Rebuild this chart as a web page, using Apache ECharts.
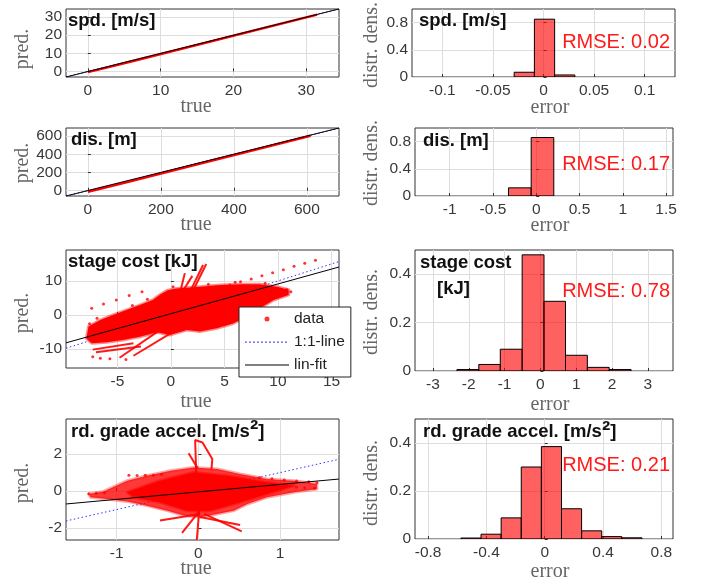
<!DOCTYPE html>
<html>
<head>
<meta charset="utf-8">
<title>prediction vs true / error histograms</title>
<script src="https://cdn.jsdelivr.net/npm/echarts@6/dist/echarts.min.js"></script>
<style>
  html, body { margin: 0; padding: 0; background: #fff; }
  #chart { width: 702px; height: 579px; }
</style>
</head>
<body>
<div id="chart"></div>
<script>
// ---- values ----

// axis ranges [min, max] per panel (row-major: left scatter, right histogram)
const xRanges = [[-3, 34.5], [-0.13, 0.13], [-60, 688], [-1.4, 1.58], [-9.8, 15.7], [-3.5, 3.7], [-1.62, 1.72], [-0.89, 0.88]];
const yRanges = [[-3.1, 34.4], [0, 1], [-58, 690], [0, 1], [-15.6, 19.1], [0, 0.5], [-2.65, 3.9], [0, 0.5]];
const xTicks = [[0, 10, 20, 30], [-0.1, -0.05, 0, 0.05, 0.1], [0, 200, 400, 600], [-1, -0.5, 0, 0.5, 1, 1.5],
                [-5, 0, 5, 10, 15], [-3, -2, -1, 0, 1, 2, 3], [-1, 0, 1], [-0.8, -0.4, 0, 0.4, 0.8]];
const yTicks = [[0, 10, 20, 30], [0, 0.4, 0.8], [0, 200, 400, 600], [0, 0.4, 0.8],
                [-10, 0, 10], [0, 0.2, 0.4], [-2, 0, 2], [0, 0.2, 0.4]];

// speed
const spdData = [[0, -0.4], [3, 2.5], [6.5, 6.0], [31.5, 31.3]];
const spdOne = [[-3, -3], [34.5, 34.5]];
const spdFit = [[-3, -3.1], [34.5, 34.4]];
const spdEdges = [-0.029, -0.009, 0.011, 0.031];
const spdHist = [0.07, 0.85, 0.03];

// distance
const disData = [[0, -12], [100, 86], [300, 292], [610, 605]];
const disOne = [[-60, -60], [688, 688]];
const disFit = [[-60, -58], [688, 690]];
const disEdges = [-0.32, -0.058, 0.203];
const disHist = [0.12, 0.86];

// stage cost
const costCloud = [[-7.7, -3.4], [-6.6, -1.5], [-5.4, 0.0], [-4.1, 1.5], [-2.9, 2.9], [-1.7, 4.4], [-1.0, 6.0], [-0.3, 7.3],
  [0.5, 7.8], [2.7, 8.3], [4.6, 8.8], [6.5, 9.0], [8.3, 9.0], [9.9, 8.3], [11.0, 7.4], [11.0, 5.9], [9.6, 4.4],
  [8.3, 2.0], [7.1, -0.5], [5.8, -2.5], [4.3, -3.9], [2.7, -4.9], [1.5, -4.4], [-0.1, -5.9], [-1.3, -5.1],
  [-2.9, -6.4], [-4.5, -7.4], [-6.0, -8.0], [-7.4, -8.3], [-7.9, -6.9]];
const costStreaks = [
  [[0.8, 5.9], [1.3, 12.3]],
  [[1.9, 7.6], [3.0, 14.7]],
  [[2.2, 8.0], [3.3, 15.0]],
  [[1.2, 7.5], [2.0, 11.5]],
  [[-4.8, -12.6], [-1.0, -4.4]],
  [[-3.5, -12.0], [0.2, -5.0]],
  [[-7.3, -10.2], [-3.5, -8.3]],
  [[-7.0, -11.0], [-2.8, -9.3]]
];
const costDots = [[-7.4, 2.0], [-6.3, 3.2], [-5.1, 4.4], [-3.9, 5.7], [-2.7, 6.8],
  [5.5, 8.8], [6.5, 9.8], [7.5, 10.6], [8.5, 11.5], [9.5, 12.4], [10.5, 13.3], [11.5, 14.3], [12.5, 15.2], [13.5, 16.1],
  [-6.6, -12.7], [-5.7, -12.9], [-7.3, -12.3], [-4.2, -13.1], [10.8, 7.5], [11.2, 6.8],
  [-7.6, -2.6], [-6.9, -1.0], [-3.6, 2.8], [-2.2, 4.6], [0.2, 8.3], [3.5, 9.0], [6.0, 9.6], [8.8, 9.3]];
const costOne = [[-9.8, -9.8], [15.7, 15.7]];
const costFit = [[-9.8, -8.2], [15.7, 14.1]];
const costEdges = [-2.33, -1.72, -1.12, -0.51, 0.10, 0.70, 1.31, 1.92, 2.53];
const costHist = [0.006, 0.027, 0.09, 0.48, 0.288, 0.065, 0.015, 0.006];

// road grade acceleration
const accelCloud = [[-1.34, -0.16], [-1.16, -0.02], [-0.87, 0.56], [-0.63, 0.83], [-0.34, 1.10], [-0.06, 1.28], [0.23, 1.19],
  [0.51, 0.92], [0.84, 0.65], [1.17, 0.56], [1.45, 0.38], [1.45, 0.11], [1.17, -0.07], [0.84, -0.34], [0.60, -0.70],
  [0.43, -1.06], [0.23, -1.24], [0.02, -1.42], [-0.18, -1.33], [-0.38, -1.06], [-0.63, -0.79], [-0.87, -0.56],
  [-1.12, -0.43], [-1.32, -0.34]];
const accelCore = [[-0.87, -0.07], [-0.47, 0.56], [-0.06, 1.01], [0.35, 0.83], [0.84, 0.47], [1.17, 0.29], [0.84, -0.16],
  [0.51, -0.61], [0.15, -1.06], [-0.14, -1.06], [-0.47, -0.61], [-0.79, -0.34]];
const accelStreaks = [
  [[-0.02, 0.02], [-0.04, 2.76], [0.05, 2.63], [0.17, 1.73], [0.16, 1.19]],
  [[-0.12, 2.05], [-0.01, 1.24]],
  [[0.02, -0.5], [-0.02, -2.65]],
  [[0.07, -1.24], [0.53, -2.18]],
  [[0.02, -1.03], [-0.2, -2.27]],
  [[0.02, -1.4], [0.51, -1.84]],
  [[-0.47, -1.6], [0.02, -1.24]]
];
const accelDots = [[-0.85, 0.85], [-0.75, 0.84], [-0.65, 0.86], [-0.55, 0.85], [-0.45, 0.9],
  [0.75, 0.72], [0.9, 0.66], [1.05, 0.6], [1.2, 0.55], [1.35, 0.5], [1.45, 0.45],
  [1.2, 0.2], [1.3, 0.18], [1.42, 0.15], [-1.34, -0.15], [-1.25, -0.12], [-1.15, -0.1]];
const accelOne = [[-1.62, -1.62], [1.72, 1.72]];
const accelFit = [[-1.62, -0.7], [1.72, 0.65]];
const accelEdges = [-0.575, -0.437, -0.299, -0.161, -0.023, 0.115, 0.253, 0.391, 0.529, 0.667];
const accelHist = [0.004, 0.02, 0.088, 0.30, 0.385, 0.126, 0.034, 0.01, 0.005];

const rmse = ['RMSE: 0.02', 'RMSE: 0.17', 'RMSE: 0.78', 'RMSE: 0.21'];

// ---- layout ----
const grids = [
  { left: 66, top: 9, width: 273, height: 68 },
  { left: 412, top: 9, width: 263, height: 68 },
  { left: 66, top: 128, width: 273, height: 68 },
  { left: 415, top: 128, width: 258, height: 68 },
  { left: 66, top: 250, width: 273, height: 118 },
  { left: 415, top: 250, width: 258, height: 121 },
  { left: 66, top: 419, width: 273, height: 121 },
  { left: 415, top: 419, width: 258, height: 120 }
];

const sans = '"Liberation Sans", Arial, sans-serif';
const serif = '"Liberation Serif", "Times New Roman", serif';

function axis(i, range, ticks, isX) {
  return {
    type: 'value', gridIndex: i, min: range[0], max: range[1],
    axisLine: { show: false },
    axisTick: { show: true, inside: true, length: 3, customValues: ticks, lineStyle: { color: '#333' } },
    axisLabel: { customValues: ticks, color: '#383838', fontSize: 15.5, fontFamily: sans, margin: isX ? 6 : 4 },
    splitLine: { show: true, lineStyle: { color: '#dedede', width: 1 } }
  };
}

function lineSeries(i, name, pts, color, width, type, z) {
  return {
    type: 'line', name: name, xAxisIndex: i, yAxisIndex: i, data: pts,
    symbol: 'none', silent: true, z: z, animation: false,
    lineStyle: { color: color, width: width, type: type }
  };
}

function dotSeries(i, name, pts) {
  return {
    type: 'scatter', name: name, xAxisIndex: i, yAxisIndex: i, data: pts,
    symbol: 'circle', symbolSize: 3, silent: true, z: 3, animation: false,
    itemStyle: { color: '#ff0000' }
  };
}

function cloudSeries(i, pts, fill, stroke, lw) {
  return {
    type: 'custom', xAxisIndex: i, yAxisIndex: i, data: [pts[0]], silent: true, clip: true, z: 2,
    renderItem: function (params, api) {
      return {
        type: 'polygon',
        shape: { points: pts.map(p => api.coord(p)) },
        style: { fill: fill, stroke: stroke, lineWidth: lw, lineJoin: 'round' }
      };
    }
  };
}

function histSeries(i, edges, heights) {
  return {
    type: 'custom', xAxisIndex: i, yAxisIndex: i, silent: true, clip: true, z: 2,
    encode: { x: [0, 1], y: 2 },
    data: heights.map((h, k) => [edges[k], edges[k + 1], h]),
    renderItem: function (params, api) {
      const a = api.coord([api.value(0), api.value(2)]);
      const b = api.coord([api.value(1), 0]);
      return {
        type: 'rect',
        shape: { x: a[0], y: a[1], width: b[0] - a[0], height: b[1] - a[1] },
        style: { fill: 'rgba(255,0,0,0.62)', stroke: '#000', lineWidth: 1 }
      };
    }
  };
}

const series = [];
// row 1
series.push(lineSeries(0, 'spdOne', spdOne, '#3333ff', 1, [1.5, 2.5], 1));
series.push(lineSeries(0, 'spdData', spdData, '#ff0000', 2.5, 'solid', 2));
series.push(lineSeries(0, 'spdFit', spdFit, '#000', 1, 'solid', 5));
series.push(histSeries(1, spdEdges, spdHist));
// row 2
series.push(lineSeries(2, 'disOne', disOne, '#3333ff', 1, [1.5, 2.5], 1));
series.push(lineSeries(2, 'disData', disData, '#ff0000', 2.5, 'solid', 2));
series.push(lineSeries(2, 'disFit', disFit, '#000', 1, 'solid', 5));
series.push(histSeries(3, disEdges, disHist));
// row 3
series.push(lineSeries(4, '1:1-line', costOne, '#3333ff', 1, [1.5, 2.5], 1));
series.push(cloudSeries(4, costCloud, '#ff0000', 'rgba(255,0,0,0.45)', 3));
costStreaks.forEach(s => series.push(lineSeries(4, 'costStreak', s, 'rgba(255,0,0,0.9)', 2, 'solid', 3)));
series.push(dotSeries(4, 'data', costDots));
series.push(lineSeries(4, 'lin-fit', costFit, '#000', 1, 'solid', 5));
series.push(histSeries(5, costEdges, costHist));
// row 4
series.push(lineSeries(6, 'accelOne', accelOne, '#3333ff', 1, [1.5, 2.5], 1));
series.push(cloudSeries(6, accelCloud, 'rgba(255,0,0,0.78)', 'rgba(255,0,0,0.35)', 3));
series.push(cloudSeries(6, accelCore, '#ff0000', 'rgba(255,0,0,0.5)', 3));
accelStreaks.forEach(s => series.push(lineSeries(6, 'accelStreak', s, 'rgba(255,0,0,0.9)', 2, 'solid', 3)));
series.push(dotSeries(6, 'accelDots', accelDots));
series.push(lineSeries(6, 'accelFit', accelFit, '#000', 1, 'solid', 5));
series.push(histSeries(7, accelEdges, accelHist));

// ---- text: panel titles, axis names, RMSE ----
const graphic = [];
function txt(x, y, text, font, fill, align, vAlign, rot, rich) {
  graphic.push({
    type: 'text', x: x, y: y, rotation: rot || 0, silent: true, z: 20,
    style: { text: text, font: font, fill: fill, align: align, verticalAlign: vAlign, rich: rich }
  });
}
const titleFont = 'bold 18.5px ' + sans;
const supRich = {
  a: { fontSize: 18.5, fontWeight: 'bold', fontFamily: sans, fill: '#111' },
  s: { fontSize: 25, fontWeight: 'bold', fontFamily: sans, fill: '#111' }
};
txt(68, 11.5, 'spd. [m/s]', titleFont, '#111', 'left', 'top');
txt(419, 11.5, 'spd. [m/s]', titleFont, '#111', 'left', 'top');
txt(71, 130, 'dis. [m]', titleFont, '#111', 'left', 'top');
txt(423, 131.5, 'dis. [m]', titleFont, '#111', 'left', 'top');
txt(68, 252, 'stage cost [kJ]', titleFont, '#111', 'left', 'top');
txt(420, 253.5, 'stage cost', titleFont, '#111', 'left', 'top');
txt(437, 279, '[kJ]', titleFont, '#111', 'left', 'top');
txt(71, 419, '{a|rd. grade accel. [m/s}{s|²}{a|]}', titleFont, '#111', 'left', 'top', 0, supRich);
txt(423, 419.5, '{a|rd. grade accel. [m/s}{s|²}{a|]}', titleFont, '#111', 'left', 'top', 0, supRich);

const rmseY = [42, 164, 291, 465];
rmse.forEach((t, k) => txt(670, rmseY[k], t, '20px ' + sans, '#ff1a1a', 'right', 'middle'));

const labFont = '20px ' + serif;
const labColor = '#666';
[49, 163, 313, 483].forEach(y => txt(23, y, 'pred.', labFont, labColor, 'center', 'middle', Math.PI / 2));
[45, 163, 312, 483].forEach(y => txt(372, y, 'distr. dens.', labFont, labColor, 'center', 'middle', Math.PI / 2));
[107, 225, 402, 569].forEach(y => txt(196, y, 'true', labFont, labColor, 'center', 'middle'));
[108, 226, 405, 572].forEach(y => txt(550, y, 'error', labFont, labColor, 'center', 'middle'));

// legend icons (bounding box 44x14)
const dotIcon = 'path://M0,0M44,14M22,4.5A2.5,2.5,0,1,1,22,9.5A2.5,2.5,0,1,1,22,4.5Z';
let dots = 'path://M0,0M44,14';
for (let k = 0; k < 44; k += 4) dots += 'M' + k + ',6.4h1.8v1.4h-1.8Z';
const solidIcon = 'path://M0,0M44,14M0,6.5h44v1h-44Z';

const option = {
  animation: false,
  backgroundColor: '#fff',
  grid: grids.map(g => Object.assign({ show: true, borderColor: '#333', borderWidth: 1, backgroundColor: '#fff', containLabel: false }, g)),
  xAxis: xRanges.map((r, i) => axis(i, r, xTicks[i], true)),
  yAxis: yRanges.map((r, i) => axis(i, r, yTicks[i], false)),
  legend: {
    data: [
      { name: 'data', icon: dotIcon, itemStyle: { color: '#ff0000' } },
      { name: '1:1-line', icon: dots, itemStyle: { color: '#4444ff' } },
      { name: 'lin-fit', icon: solidIcon, itemStyle: { color: '#000' } }
    ],
    orient: 'vertical', left: 239, top: 307,
    itemWidth: 44, itemHeight: 14, itemGap: 7,
    padding: [4, 6, 4, 6],
    backgroundColor: '#fff', borderColor: '#222', borderWidth: 1,
    textStyle: { fontFamily: sans, fontSize: 15.5, color: '#222' },
    selectedMode: false, z: 10
  },
  graphic: graphic,
  series: series
};

const chart = echarts.init(document.getElementById('chart'));
chart.setOption(option);
</script>
</body>
</html>
